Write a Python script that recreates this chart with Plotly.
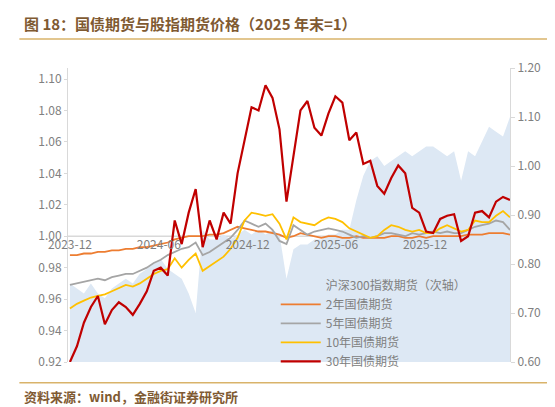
import pandas as pd
import plotly.graph_objects as go

# sample points, 2023-12 to 2026-05
dates = pd.date_range("2023-12-01", "2026-05-25", periods=64)

hs300 = [0.76, 0.75, 0.74, 0.76, 0.74, 0.73, 0.75, 0.76, 0.77, 0.76,
         0.78, 0.79, 0.80, 0.81, 0.79, 0.78, 0.77, 0.74, 0.70, 0.87,
         0.85, 0.85, 0.86, 0.85, 0.86, 0.87, 0.86, 0.87, 0.86, 0.87,
         0.86, 0.77, 0.83, 0.84, 0.84, 0.85, 0.85, 0.86, 0.86, 0.87,
         0.87, 0.93, 0.98, 1.01, 1.02, 1.00, 1.01, 1.02, 1.03, 1.02,
         1.03, 1.04, 1.04, 1.03, 1.02, 1.03, 0.97, 1.03, 1.02, 1.05,
         1.08, 1.07, 1.06, 1.10]

ts2 = [0.988, 0.988, 0.989, 0.989, 0.990, 0.990, 0.991, 0.991, 0.992, 0.992,
       0.993, 0.993, 0.994, 0.995, 0.996, 0.998, 0.999, 1.000, 1.000, 1.000,
       1.001, 1.001, 1.002, 1.004, 1.006, 1.005, 1.004, 1.003, 1.003, 1.002,
       1.001, 0.999, 1.000, 1.002, 1.001, 1.000, 0.999, 1.000, 1.000, 0.999,
       0.999, 1.000, 0.999, 0.999, 0.999, 0.999, 1.000, 1.000, 0.999, 0.999,
       1.000, 0.999, 1.000, 1.000, 1.000, 1.000, 1.000, 1.001, 1.001, 1.001,
       1.002, 1.002, 1.002, 1.001]

tf5 = [0.969, 0.970, 0.971, 0.972, 0.973, 0.972, 0.974, 0.975, 0.976, 0.976,
       0.978, 0.980, 0.983, 0.985, 0.988, 0.990, 0.992, 0.993, 0.996, 0.988,
       0.990, 0.993, 0.996, 0.999, 1.004, 1.010, 1.008, 1.006, 1.008, 1.004,
       0.997, 0.995, 1.007, 1.004, 1.001, 1.003, 1.004, 1.005, 1.004, 1.003,
       1.001, 0.999, 1.000, 0.999, 1.000, 1.002, 1.002, 1.001, 1.000, 1.002,
       1.001, 1.002, 1.003, 1.002, 1.003, 1.002, 1.002, 1.004, 1.006, 1.007,
       1.008, 1.010, 1.009, 1.004]

t10 = [0.954, 0.957, 0.959, 0.961, 0.962, 0.963, 0.965, 0.967, 0.969, 0.968,
       0.970, 0.973, 0.976, 0.978, 0.979, 0.986, 0.980, 0.985, 0.989, 0.978,
       0.981, 0.984, 0.987, 0.992, 0.999, 1.010, 1.015, 1.014, 1.013, 1.014,
       1.008, 0.998, 1.012, 1.009, 1.008, 1.007, 1.010, 1.012, 1.011, 1.009,
       1.005, 1.003, 1.001, 0.999, 1.000, 1.004, 1.007, 1.006, 1.004, 1.003,
       1.004, 1.002, 1.002, 1.005, 1.007, 1.005, 1.003, 1.004, 1.010, 1.009,
       1.009, 1.013, 1.016, 1.012]

tl30 = [0.920, 0.930, 0.945, 0.955, 0.962, 0.944, 0.953, 0.958, 0.955, 0.950,
        0.957, 0.965, 0.978, 0.980, 0.975, 1.010, 0.995, 1.015, 1.030, 0.993,
        1.010, 0.998, 1.015, 1.008, 1.040, 1.060, 1.082, 1.080, 1.096, 1.088,
        1.068, 1.022, 1.050, 1.080, 1.086, 1.069, 1.064, 1.078, 1.089, 1.085,
        1.061, 1.066, 1.046, 1.048, 1.032, 1.027, 1.037, 1.045, 1.040, 1.018,
        1.015, 1.003, 1.002, 1.011, 1.013, 1.014, 0.997, 1.000, 1.015, 1.016,
        1.012, 1.022, 1.025, 1.023]

left_ticks = [0.92, 0.94, 0.96, 0.98, 1.00, 1.02, 1.04, 1.06, 1.08, 1.10]
right_ticks = [0.60, 0.70, 0.80, 0.90, 1.00, 1.10, 1.20]

CJK = "Noto Sans CJK SC"
GRAY = "#808080"
BROWN = "#7f5a32"

fig = go.Figure()

# area on the base axis (shown on the right) so the lines draw on top of it
fig.add_trace(go.Scatter(
    x=dates, y=hs300, name="沪深300指数期货（次轴）", yaxis="y",
    mode="lines", line=dict(width=0, color="#bdd7ee"),
    fill="tozeroy", fillcolor="#dde8f4"))

for name, vals, col, w in [
    ("2年国债期货", ts2, "#ED7D31", 1.8),
    ("5年国债期货", tf5, "#A5A5A5", 1.8),
    ("10年国债期货", t10, "#FFC000", 1.8),
    ("30年国债期货", tl30, "#C00000", 2.2),
]:
    fig.add_trace(go.Scatter(x=dates, y=vals, name=name, mode="lines",
                             yaxis="y2", line=dict(color=col, width=w)))

fig.add_shape(type="line", xref="paper", yref="y2", x0=0, x1=1, y0=1.0, y1=1.0,
              line=dict(color="#d9d9d9", width=1.5), layer="below")

fig.update_layout(
    width=555, height=407,
    margin=dict(l=60, r=53, t=60, b=53),
    paper_bgcolor="white", plot_bgcolor="white",
    font=dict(family=CJK, size=12, color=GRAY),
    showlegend=True,
    legend=dict(x=0.47, y=0.31, xanchor="left", yanchor="top",
                bgcolor="rgba(0,0,0,0)", font=dict(size=12, color=GRAY),
                tracegroupgap=0, itemwidth=40),
    xaxis=dict(type="date", range=[dates[0] - pd.Timedelta(days=4), dates[-1]],
               tickformat="%Y-%m", dtick="M6", tick0="2023-12-01",
               showgrid=False, anchor="free", position=0.428,
               ticks="", showline=False, tickfont=dict(size=12, color=GRAY)),
    yaxis=dict(range=[0.6, 1.2], tickvals=right_ticks, tickformat=".2f",
               side="right", showgrid=False, zeroline=False,
               showline=True, linecolor="#d9d9d9", ticks="outside", ticklen=4,
               tickcolor="#d9d9d9", tickfont=dict(size=12, color=GRAY)),
    yaxis2=dict(range=[0.92, 1.107], tickvals=left_ticks, tickformat=".2f",
                overlaying="y", side="left", showgrid=False, zeroline=False,
                showline=True, linecolor="#d9d9d9", ticks="outside", ticklen=3,
                tickcolor="#d9d9d9", tickfont=dict(size=12, color=GRAY)),
)

fig.add_annotation(text="<b>图 18：国债期货与股指期货价格（2025 年末=1）</b>",
                   xref="paper", yref="paper", x=-0.105, y=1.153,
                   xanchor="left", yanchor="middle", showarrow=False,
                   font=dict(family=CJK, size=15, color=BROWN))
fig.add_annotation(text="<b>资料来源：wind，金融街证券研究所</b>",
                   xref="paper", yref="paper", x=-0.105, y=-0.116,
                   xanchor="left", yanchor="middle", showarrow=False,
                   font=dict(family=CJK, size=13, color=BROWN))
# gold rules under title and above source
for yy in (1.099, -0.071):
    fig.add_shape(type="line", xref="paper", yref="paper",
                  x0=-0.11, x1=1.12, y0=yy, y1=yy,
                  line=dict(color="#d9b36a", width=1.5))

fig.write_html("out.html")
